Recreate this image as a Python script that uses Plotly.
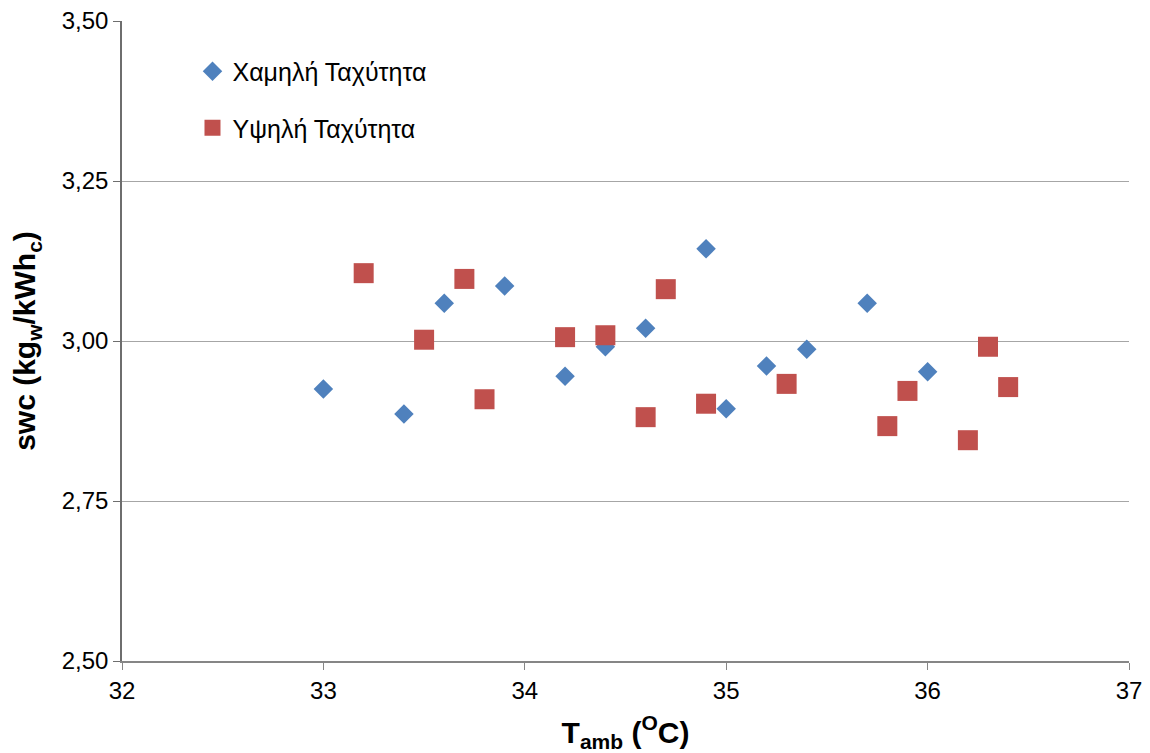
import plotly.graph_objects as go

low_x = [33.0, 33.4, 33.6, 33.9, 34.2, 34.4, 34.6, 34.9, 35.0, 35.2, 35.4, 35.7, 36.0]
low_y = [2.925, 2.886, 3.059, 3.086, 2.945, 2.991, 3.020, 3.144, 2.894, 2.961, 2.987, 3.059, 2.952]

high_x = [33.2, 33.5, 33.7, 33.8, 34.2, 34.4, 34.6, 34.7, 34.9, 35.3, 35.8, 35.9, 36.2, 36.3, 36.4]
high_y = [3.106, 3.002, 3.097, 2.909, 3.006, 3.009, 2.881, 3.081, 2.902, 2.933, 2.867, 2.922, 2.845, 2.991, 2.928]

low_name = "Χαμηλή Ταχύτητα"
high_name = "Υψηλή Ταχύτητα"

FONT = "Liberation Sans, Arial, sans-serif"

fig = go.Figure()
fig.add_trace(go.Scatter(x=low_x, y=low_y, mode="markers", name=low_name,
                         legendgroup="a",
                         marker=dict(symbol="diamond", size=15, color="#4F81BD",
                                     line=dict(width=0))))
fig.add_trace(go.Scatter(x=high_x, y=high_y, mode="markers", name=high_name,
                         legendgroup="b",
                         marker=dict(symbol="square", size=20, color="#C0504D",
                                     line=dict(width=0))))

fig.update_layout(
    width=1142, height=745,
    margin=dict(l=114, r=21, t=13, b=92),
    paper_bgcolor="white", plot_bgcolor="white",
    separators=",.",
    font=dict(family=FONT, size=24, color="black"),
    legend=dict(x=0.070, y=0.957, xanchor="left", yanchor="top",
                bgcolor="rgba(0,0,0,0)", font=dict(size=25, family=FONT),
                traceorder="grouped", tracegroupgap=21, itemwidth=30),
    xaxis=dict(range=[32, 37], tick0=32, dtick=1, showgrid=False,
               showline=True, linecolor="#868686", linewidth=1.5,
               ticks="outside", ticklen=7, tickcolor="#868686",
               tickfont=dict(size=24, family=FONT), zeroline=False,
               automargin=False, ticklabeloverflow="allow",
               title=dict(text="<b>T<sub>amb</sub> (<sup>O</sup>C)</b>",
                          font=dict(size=30, family=FONT), standoff=22)),
    yaxis=dict(range=[2.5, 3.5], tick0=2.5, dtick=0.25, tickformat=".2f",
               showgrid=True, gridcolor="#A6A6A6", gridwidth=1,
               showline=True, linecolor="#6E6E6E", linewidth=1.5,
               ticks="outside", ticklen=7, tickcolor="#6E6E6E",
               tickfont=dict(size=24, family=FONT), zeroline=False,
               automargin=False, ticklabeloverflow="allow",
               title=dict(text="<b>swc (kg<sub>w</sub>/kWh<sub>c</sub>)</b>",
                          font=dict(size=30, family=FONT), standoff=17)),
)

fig.write_html("out.html")
